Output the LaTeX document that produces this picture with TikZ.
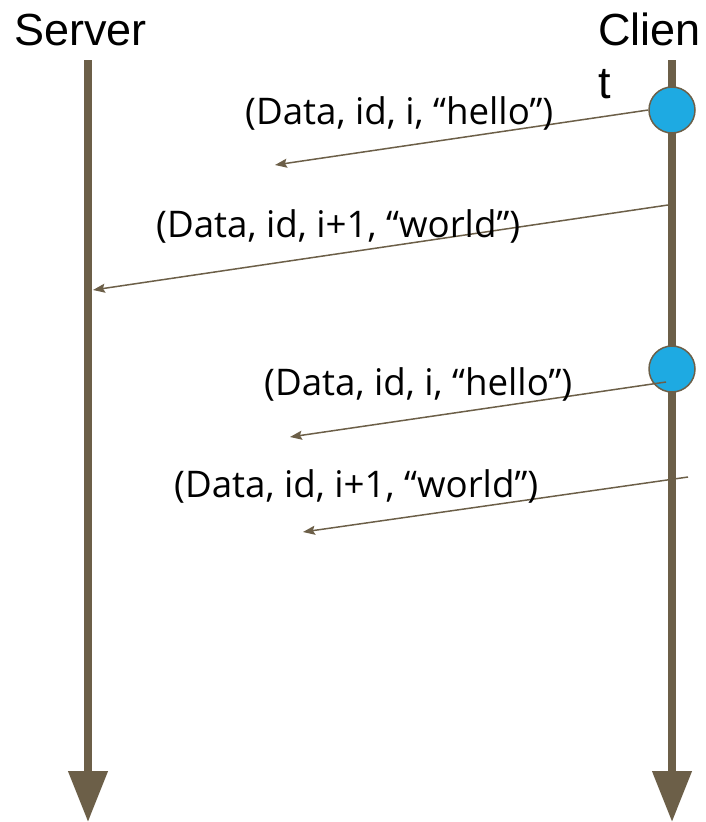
\documentclass[tikz,border=0pt]{standalone}
\usepackage{fontspec}
\setmainfont{Open Sans}
\newfontfamily\headfont{Liberation Sans}
\usetikzlibrary{arrows.meta}
\definecolor{lifebrown}{RGB}{108,95,72}
\definecolor{eventblue}{RGB}{30,170,226}
\tikzset{
  lifeline/.style={draw=lifebrown, line width=7.5pt,
    -{Triangle[length=51pt,width=38pt]}},
  msg/.style={draw=lifebrown, line width=1.5pt,
    -{Stealth[length=12pt,width=9pt,inset=2pt]}},
  event/.style={circle, draw=lifebrown, line width=1.5pt, fill=eventblue,
    minimum size=46pt, inner sep=0pt},
  head/.style={font=\headfont\fontsize{45}{53}\selectfont, inner sep=0pt,
    anchor=base west, align=left},
  msglabel/.style={font=\fontsize{36.7}{44}\selectfont, inner sep=0pt,
    anchor=base west},
}
\begin{document}
\begin{tikzpicture}[x=1pt,y=-1pt]
\useasboundingbox (0,0) rectangle (706,822);

% headings (the base anchor of a two-line node sits on its last line)
\node[head] (srvname) at (14,45) {Server};
\node[head] (cliname) at (598,98) {Clien\\t};

% lifelines
\coordinate (srvtop) at (88,60);
\coordinate (srvbot) at (88,822);
\coordinate (clitop) at (672,60);
\coordinate (clibot) at (672,822);
\draw[lifeline] (srvtop) -- (srvbot);
\draw[lifeline] (clitop) -- (clibot);

% first message leaves the edge of the first event
\coordinate (m1end) at (275,165);
\node[event] (ev1) at (672,110) {};
\draw[msg] (ev1.west) -- (m1end);

% second message
\coordinate (m2start) at (668,205);
\coordinate (m2end) at (93,290);
\draw[msg] (m2start) -- (m2end);

% retransmission
\node[event] (ev2) at (672,369) {};
\coordinate (m3start) at (666,382);
\coordinate (m3end) at (290,437);
\draw[msg] (m3start) -- (m3end);

\coordinate (m4start) at (688,477);
\coordinate (m4end) at (303,532);
\draw[msg] (m4start) -- (m4end);

% message labels
\node[msglabel] (l1) at (245,124) {(Data, id, i, “hello”)};
\node[msglabel] (l2) at (156,237) {(Data, id, i+1, “world”)};
\node[msglabel] (l3) at (264,395) {(Data, id, i, “hello”)};
\node[msglabel] (l4) at (174,497) {(Data, id, i+1, “world”)};
\end{tikzpicture}
\end{document}
